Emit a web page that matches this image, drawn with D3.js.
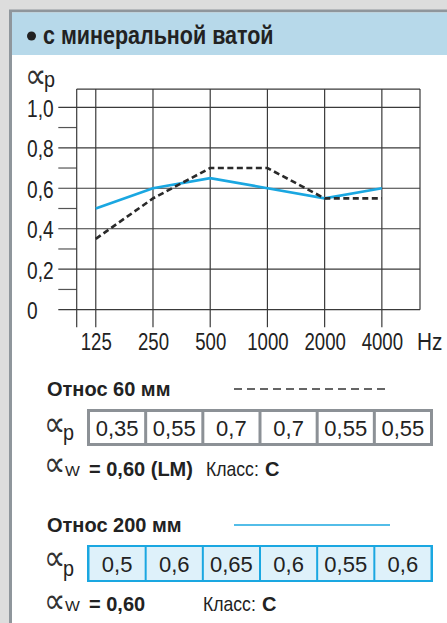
<!DOCTYPE html>
<html>
<head>
<meta charset="utf-8">
<script src="https://cdn.jsdelivr.net/npm/d3@7"></script>
<style>
  html, body { margin: 0; padding: 0; background: #dddddd; }
  svg { display: block; }
  text { font-family: "Liberation Sans", Arial, sans-serif; fill: #222; }
  text.sym { font-family: "DejaVu Sans", sans-serif; fill: #333; }
</style>
</head>
<body>
<div id="chart"></div>
<script>
// data
const freqs = ["125", "250", "500", "1000", "2000", "4000"];
const otnos60 = [0.35, 0.55, 0.7, 0.7, 0.55, 0.55];
const otnos200 = [0.5, 0.6, 0.65, 0.6, 0.55, 0.6];
const yTicks = [0, 0.2, 0.4, 0.6, 0.8, 1.0];
const yMinor = [0.1, 0.3, 0.5, 0.7, 0.9];
const aw60 = "0,60 (LM)";
const aw200 = "0,60";
const klass60 = "C";
const klass200 = "C";

const W = 447, H = 623;
const blue = "#1aa7e1";
const fmt = v => String(v).replace(".", ",");

const svg = d3.select("#chart").append("svg")
  .attr("width", W).attr("height", H);

// text helper, sx squeezes the glyphs like a condensed face
function label(g, x, y, str, size, o = {}) {
  return g.append("text")
    .attr("transform", `translate(${x},${y}) scale(${o.sx || 1},${o.sy || 1})`)
    .attr("font-size", size)
    .attr("font-weight", o.bold ? "bold" : null)
    .attr("text-anchor", o.anchor || "start")
    .text(str);
}

// panel
svg.append("rect").attr("x", 10.5).attr("y", 11).attr("width", W).attr("height", H)
  .attr("fill", "#ffffff").attr("stroke", "#8f969c").attr("stroke-width", 3);
svg.append("rect").attr("x", 12).attr("y", 12.5).attr("width", W).attr("height", 42.5)
  .attr("fill", "#b7d9ea");
svg.append("circle").attr("cx", 31.5).attr("cy", 36).attr("r", 4.5).attr("fill", "#222");
label(svg, 43, 43.5, "с минеральной ватой", 25, { bold: true, sx: 0.86 });

// scales
const x = d3.scaleLinear().domain([-1 / 3, 5 + 2 / 3]).range([76.7, 420]);
const y = d3.scaleLinear().domain([0, 1]).range([309.7, 107.3]);
const yTop = y(1.09), yBot = y(0) + 17.5;

const grid = svg.append("g").attr("stroke", "#3a3a3a").attr("stroke-width", 1.2);
// horizontal grid lines
grid.selectAll(".hl").data(yTicks).enter().append("line")
  .attr("x1", 58.3).attr("x2", x.range()[1])
  .attr("y1", d => y(d)).attr("y2", d => y(d));
// minor ticks
grid.selectAll(".ml").data(yMinor).enter().append("line")
  .attr("x1", 58.3).attr("x2", x.range()[0])
  .attr("y1", d => y(d)).attr("y2", d => y(d))
  .attr("stroke", "#555");
// top border
grid.append("line").attr("x1", x.range()[0]).attr("x2", x.range()[1])
  .attr("y1", yTop).attr("y2", yTop);
// vertical lines: left frame + one per frequency
grid.selectAll(".vl").data([-1 / 3, 0, 1, 2, 3, 4, 5]).enter().append("line")
  .attr("x1", d => x(d)).attr("x2", d => x(d))
  .attr("y1", yTop).attr("y2", yBot);
grid.append("line").attr("x1", x.range()[1]).attr("x2", x.range()[1])
  .attr("y1", yTop).attr("y2", y(0));

// y axis labels
const yAxis = svg.append("g").attr("transform", "translate(27,0)")
  .call(d3.axisLeft(y).tickValues(yTicks).tickSize(0)
    .tickFormat(d => d === 0 ? "0" : d3.format(".1f")(d).replace(".", ",")));
yAxis.select(".domain").remove();
yAxis.selectAll("text").attr("x", 0).attr("text-anchor", "start")
  .attr("transform", "scale(0.78,1)")
  .attr("font-size", 24.5).attr("font-family", null).attr("fill", null).attr("dy", "0.36em");

// x axis labels
const xAxis = svg.append("g").attr("transform", `translate(0,${y(0) + 40})`)
  .call(d3.axisBottom(x).tickValues(d3.range(6)).tickSize(0).tickFormat(i => freqs[i]));
xAxis.select(".domain").remove();
xAxis.selectAll("text").attr("y", 0).attr("dy", 0)
  .attr("transform", "scale(0.76,1)")
  .attr("font-size", 24.5).attr("font-family", null).attr("fill", null);
label(svg, x.range()[1] - 3, y(0) + 40, "Hz", 24.5, { sx: 0.85 });

// the alpha sign, yc is the middle of the glyph
function alphaSign(g, x0, yc) {
  label(g, x0, yc + 12.5, "∝", 30, { sy: 1.2 }).attr("class", "sym");
}
function alpha(g, x0, yc, sub, subSize, subBase) {
  alphaSign(g, x0, yc);
  label(g, x0 + 19, yc + subBase, sub, subSize, { sx: 0.9 });
}
alpha(svg, 25, 75, "p", 22, 12);

// lines
const line = d3.line().x((d, i) => x(i)).y(d => y(d));
svg.append("path").datum(otnos200).attr("d", line)
  .attr("fill", "none").attr("stroke", blue).attr("stroke-width", 2.7);
svg.append("path").datum(otnos60).attr("d", line)
  .attr("fill", "none").attr("stroke", "#2a2a2a").attr("stroke-width", 2.6)
  .attr("stroke-dasharray", "6,3.5");

// legend + tables
const xt = d3.scaleBand().domain(freqs).range([88.5, 431.5]);

function block(top, title, vals, style) {
  const g = svg.append("g");
  label(g, 47, top, title, 20, { bold: true });
  g.append("line").attr("x1", 234).attr("x2", 390).attr("y1", top - 7).attr("y2", top - 7)
    .attr("stroke", style.line).attr("stroke-width", 1.6)
    .attr("stroke-dasharray", style.dash);
  const ty = top + 13, th = 37;
  g.append("rect").attr("x", 87).attr("y", ty).attr("width", 346).attr("height", th)
    .attr("fill", style.frame);
  g.selectAll(".cell").data(vals).enter().append("rect")
    .attr("x", (d, i) => xt(freqs[i]) + style.inset)
    .attr("y", ty + style.border)
    .attr("width", xt.bandwidth() - 2 * style.inset)
    .attr("height", th - 2 * style.border)
    .attr("fill", style.cell);
  g.selectAll(".val").data(vals).enter().append("text")
    .attr("x", (d, i) => xt(freqs[i]) + xt.bandwidth() / 2)
    .attr("y", ty + 26.5).attr("text-anchor", "middle").attr("font-size", 22)
    .text(d => fmt(d));
  alpha(g, 44, style.ac, "p", 22, style.pb);
  return g;
}

const g1 = block(396, "Относ 60 мм", otnos60,
  { line: "#333", dash: "8,5", frame: "#8c9196", cell: "#ffffff", inset: 1.5, border: 3, ac: 423, pb: 17 });
const g2 = block(532, "Относ 200 мм", otnos200,
  { line: blue, dash: null, frame: blue, cell: "#def1fa", inset: 1, border: 2, ac: 557, pb: 19 });

function awRow(g, yc, yb, val, klassX, klass) {
  alphaSign(g, 44, yc);
  label(g, 65, yb, "W", 15, { sx: 1.05 });
  label(g, 89, yb, "= " + val, 20, { bold: true });
  label(g, klassX, yb, "Класс:", 20, { sx: 0.88 });
  label(g, klassX + 59, yb, klass, 20, { bold: true });
}
awRow(g1, 463, 476, aw60, 206, klass60);
awRow(g2, 600, 611, aw200, 203, klass200);
</script>
</body>
</html>
